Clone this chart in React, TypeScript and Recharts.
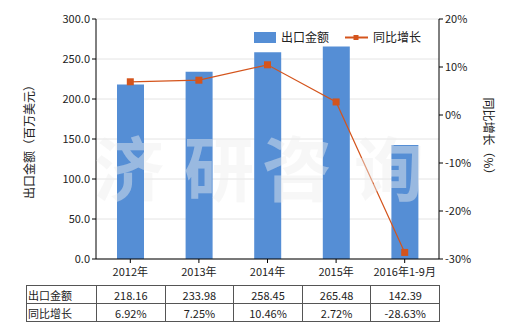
import React from 'react'
import {
  ComposedChart, Bar, Line, XAxis, YAxis, CartesianGrid,
} from 'recharts'

const categories = ['2012年', '2013年', '2014年', '2015年', '2016年1-9月']
const exportValues = [218.16, 233.98, 258.45, 265.48, 142.39]
const growthValues = [6.92, 7.25, 10.46, 2.72, -28.63]
const leftTicks = [0, 50, 100, 150, 200, 250, 300]
const rightTicks = [-30, -20, -10, 0, 10, 20]
const watermark = ['济', '研', '咨', '询']

const BAR = '#558ed5'
const LINE = '#d4541c'
const FONT = '"Noto Sans CJK SC", "Noto Sans", sans-serif'

const data = categories.map((name, i) => ({
  name,
  value: exportValues[i],
  growth: growthValues[i],
}))

function LegendBox() {
  return (
    <div style={{
      position: 'absolute', left: 254, top: 30, display: 'flex', alignItems: 'center',
      fontSize: 12, color: '#222', fontFamily: FONT, lineHeight: '14px',
    }}>
      <span style={{ display: 'inline-block', width: 22, height: 11, background: BAR, marginRight: 5 }} />
      <span style={{ marginRight: 16 }}>出口金额</span>
      <svg width={23} height={11} style={{ marginRight: 5 }}>
        <line x1={0} y1={5.5} x2={23} y2={5.5} stroke={LINE} strokeWidth={2} />
        <rect x={8.5} y={3} width={5} height={5} fill={LINE} />
      </svg>
      <span>同比增长</span>
    </div>
  )
}

function Square(props: any) {
  const { cx, cy } = props
  if (cx == null || cy == null) return null
  return <rect x={cx - 3.5} y={cy - 3.5} width={7} height={7} fill={LINE} />
}

const cell: React.CSSProperties = {
  border: '1px solid #555',
  padding: 0,
  height: 17,
  fontSize: 11,
  textAlign: 'center',
}

export default function App() {
  return (
    <div style={{ position: 'absolute', left: 0, top: 0, width: 520, height: 330, background: '#fff', fontFamily: FONT }}>
      <ComposedChart width={520} height={281} data={data} margin={{ top: 19, right: 0, left: 0, bottom: 0 }}>
        <CartesianGrid vertical={false} stroke="#e4e4e4" yAxisId="left" />
        <XAxis
          dataKey="name"
          height={22}
          tick={{ fontSize: 11, fill: '#222', fontFamily: FONT, dy: 3 }}
          tickLine={{ stroke: '#000' }}
          tickSize={4}
          axisLine={{ stroke: '#000' }}
        />
        <YAxis
          yAxisId="left"
          width={96}
          domain={[0, 300]}
          ticks={leftTicks}
          tickFormatter={(v: number) => v.toFixed(1)}
          tick={{ fontSize: 11, fill: '#222', fontFamily: FONT }}
          tickLine={{ stroke: '#000' }}
          tickSize={4}
          axisLine={{ stroke: '#000' }}
          label={{ value: '出口金额（百万美元）', angle: -90, position: 'insideLeft', offset: 30, style: { fontSize: 12, fill: '#222', fontFamily: FONT, textAnchor: 'middle' } }}
        />
        <YAxis
          yAxisId="right"
          orientation="right"
          width={81}
          domain={[-30, 20]}
          ticks={rightTicks}
          tickFormatter={(v: number) => `${v}%`}
          tick={{ fontSize: 11, fill: '#222', fontFamily: FONT }}
          tickLine={{ stroke: '#000' }}
          tickSize={4}
          axisLine={{ stroke: '#000' }}
          label={{ value: '同比增长（%）', angle: 90, position: 'insideRight', offset: 32, style: { fontSize: 12, fill: '#222', fontFamily: FONT, textAnchor: 'middle' } }}
        />
        <Bar yAxisId="left" dataKey="value" name="出口金额" fill={BAR} barSize={27} isAnimationActive={false} />
        <Line
          yAxisId="right"
          dataKey="growth"
          name="同比增长"
          stroke={LINE}
          strokeWidth={1.2}
          dot={<Square />}
          activeDot={false}
          isAnimationActive={false}
        />
      </ComposedChart>
      <LegendBox />
      {watermark.map((ch, i) => (
        <span
          key={ch}
          style={{
            position: 'absolute', left: [94, 184, 262, 354][i], top: 126, fontSize: 70, lineHeight: '80px',
            fontWeight: 700, color: 'rgba(238,238,238,0.45)', pointerEvents: 'none', fontFamily: FONT,
          }}
        >
          {ch}
        </span>
      ))}
      <table
        style={{
          position: 'absolute', left: 26, top: 285, borderCollapse: 'collapse',
          tableLayout: 'fixed', width: 413, color: '#222', fontFamily: FONT,
        }}
      >
        <colgroup>
          <col style={{ width: 70 }} />
          {categories.map(c => <col key={c} style={{ width: 68.6 }} />)}
        </colgroup>
        <tbody>
          <tr>
            <td style={{ ...cell, textAlign: 'left', paddingLeft: 1 }}>出口金额</td>
            {exportValues.map((v, i) => <td key={i} style={cell}>{v.toFixed(2)}</td>)}
          </tr>
          <tr>
            <td style={{ ...cell, textAlign: 'left', paddingLeft: 1 }}>同比增长</td>
            {growthValues.map((v, i) => <td key={i} style={cell}>{v.toFixed(2)}%</td>)}
          </tr>
        </tbody>
      </table>
    </div>
  )
}
